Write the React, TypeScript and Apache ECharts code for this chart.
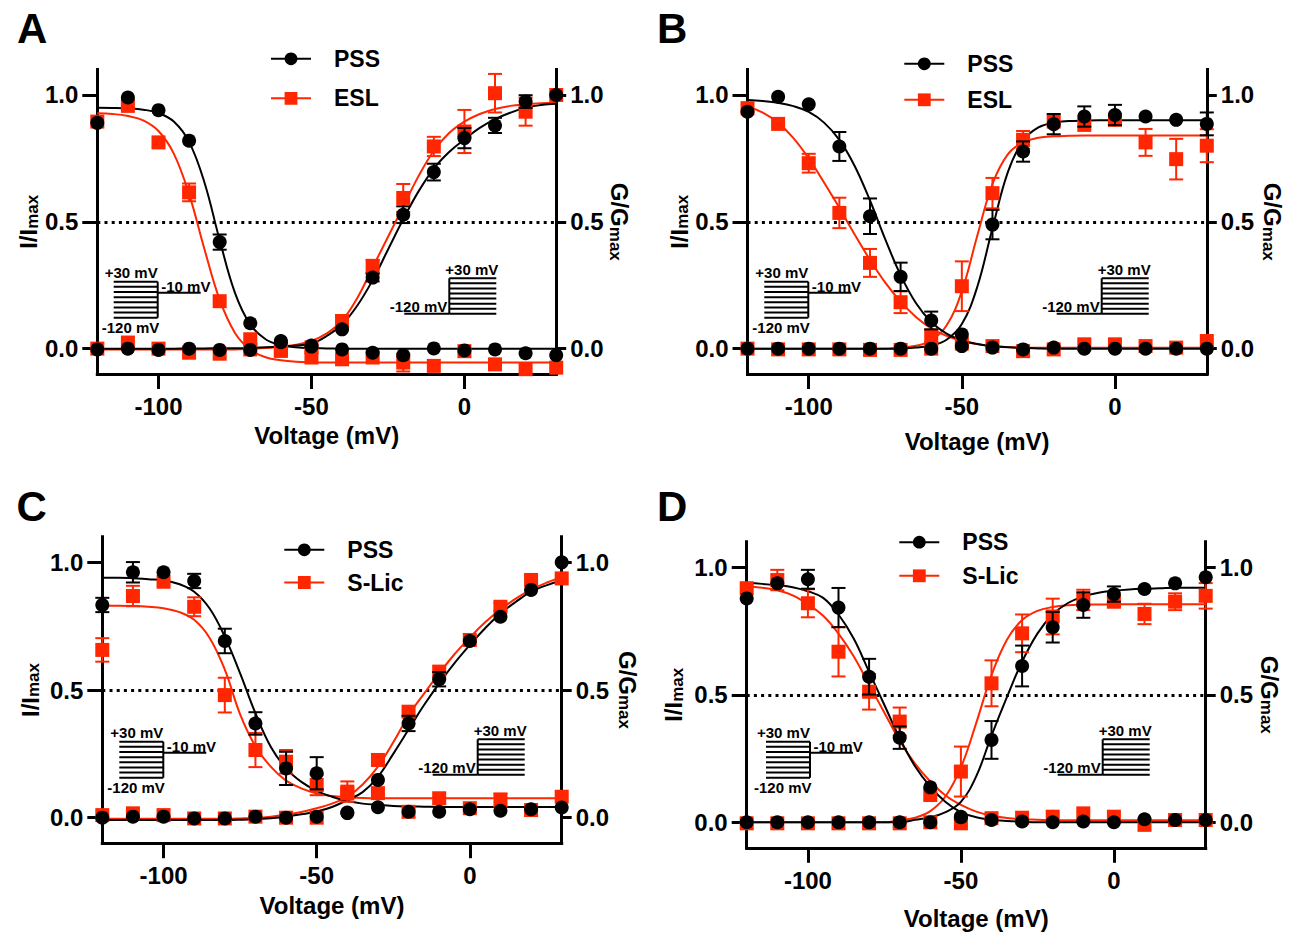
import React, { useEffect, useRef } from 'react';
import * as echarts from 'echarts';

const FONT = '"Liberation Sans", Arial, Helvetica, sans-serif';
const RED = '#ff2600';
const BLACK = '#000000';

// ---------- axes / categories ----------
const VOLTAGES = [-120, -110, -100, -90, -80, -70, -60, -50, -40, -30, -20, -10, 0, 10, 20, 30];
const FIT_VOLTAGES = [-120, -115, -110, -105, -100, -95, -90, -85, -80, -75, -70, -65, -60, -55, -50, -45, -40, -35, -30, -25, -20, -15, -10, -5, 0, 5, 10, 15, 20, 25, 30];
const X_TICKS = [-100, -50, 0];
const Y_TICKS = [0, 0.5, 1];
const PANEL_LETTERS = ['A', 'B', 'C', 'D'];
const DRUG_NAMES = ['ESL', 'ESL', 'S-Lic', 'S-Lic'];

// ---------- Panel A (PSS vs ESL) ----------
const A_PSS_INACT = [0.89, 0.99, 0.94, 0.82, 0.42, 0.10, 0.03, 0.008, -0.003, -0.016, -0.026, 0.001, -0.007, -0.003, -0.018, -0.026];
const A_PSS_INACT_ERR = [0, 0, 0, 0, 0.03, 0, 0, 0, 0, 0, 0, 0, 0, 0, 0, 0];
const A_PSS_ACT = [-0.003, 0.0, -0.005, 0.0, -0.005, -0.005, 0.025, 0.012, 0.076, 0.28, 0.528, 0.696, 0.83, 0.88, 0.974, 1.0];
const A_PSS_ACT_ERR = [0, 0, 0, 0, 0, 0, 0, 0, 0, 0.015, 0.033, 0.033, 0.04, 0.03, 0.025, 0];
const A_ESL_INACT = [0.895, 0.957, 0.813, 0.616, 0.187, 0.037, -0.009, -0.035, -0.042, -0.035, -0.055, -0.068, -0.01, -0.062, -0.081, -0.075];
const A_ESL_INACT_ERR = [0, 0, 0, 0.035, 0, 0, 0, 0, 0, 0, 0.035, 0, 0, 0, 0, 0];
const A_ESL_ACT = [0.0, 0.024, 0.0, -0.016, -0.02, -0.003, -0.005, 0.005, 0.109, 0.325, 0.594, 0.797, 0.856, 1.007, 0.934, 1.0];
const A_ESL_ACT_ERR = [0, 0, 0, 0, 0, 0, 0, 0, 0.02, 0.025, 0.055, 0.038, 0.085, 0.076, 0.055, 0];
const A_PSS_INACT_FIT = [0.95, 0.949, 0.947, 0.942, 0.929, 0.895, 0.815, 0.656, 0.428, 0.22, 0.095, 0.037, 0.014, 0.005, 0.002, 0.001, 0, 0, 0, 0, 0, 0, 0, 0, 0, 0, 0, 0, 0, 0, 0];
const A_PSS_ACT_FIT = [0, 0, 0, 0, 0, 0, 0.001, 0.001, 0.002, 0.002, 0.003, 0.005, 0.008, 0.012, 0.02, 0.05, 0.095, 0.17, 0.27, 0.39, 0.51, 0.62, 0.71, 0.775, 0.825, 0.87, 0.905, 0.93, 0.95, 0.96, 0.965];
const A_ESL_INACT_FIT = [0.928, 0.925, 0.917, 0.9, 0.858, 0.769, 0.609, 0.393, 0.193, 0.062, -0.004, -0.034, -0.046, -0.052, -0.054, -0.055, -0.055, -0.055, -0.055, -0.055, -0.055, -0.055, -0.055, -0.055, -0.055, -0.055, -0.055, -0.055, -0.055, -0.055, -0.055];
const A_ESL_ACT_FIT = [-0.003, -0.003, -0.003, -0.003, -0.003, -0.003, -0.003, -0.003, -0.003, -0.003, -0.001, 0.002, 0.008, 0.015, 0.03, 0.06, 0.11, 0.2, 0.32, 0.44, 0.56, 0.68, 0.78, 0.85, 0.895, 0.925, 0.945, 0.957, 0.963, 0.967, 0.969];

// ---------- Panel B (PSS vs ESL) ----------
const B_PSS_INACT = [0.934, 0.993, 0.963, 0.797, 0.522, 0.283, 0.111, 0.01, 0.004, -0.003, 0.004, 0.0, 0.0, 0.0, 0.0, 0.0];
const B_PSS_INACT_ERR = [0, 0, 0, 0.057, 0.07, 0.056, 0.035, 0, 0, 0, 0, 0, 0, 0, 0, 0];
const B_PSS_ACT = [0.0, 0.0, 0.0, 0.0, 0.0, 0.0, 0.0, 0.056, 0.489, 0.777, 0.885, 0.915, 0.921, 0.915, 0.902, 0.886];
const B_PSS_ACT_ERR = [0, 0, 0, 0, 0, 0, 0, 0, 0.058, 0.04, 0.04, 0.04, 0.04, 0, 0, 0.045];
const B_ESL_INACT = [0.948, 0.886, 0.731, 0.535, 0.338, 0.183, 0.05, 0.02, 0.01, -0.01, -0.003, 0.017, 0.017, 0.01, 0.004, 0.03];
const B_ESL_INACT_ERR = [0, 0, 0.037, 0.06, 0.055, 0.043, 0.025, 0, 0, 0, 0, 0, 0, 0, 0, 0];
const B_ESL_ACT = [0.0, -0.003, -0.003, -0.003, -0.005, -0.005, 0.0, 0.246, 0.613, 0.823, 0.895, 0.882, 0.902, 0.813, 0.747, 0.80];
const B_ESL_ACT_ERR = [0, 0, 0, 0, 0, 0, 0, 0.098, 0.06, 0.035, 0, 0, 0, 0.053, 0.08, 0.065];
const B_PSS_INACT_FIT = [0.98, 0.976, 0.969, 0.956, 0.933, 0.891, 0.823, 0.72, 0.584, 0.431, 0.29, 0.18, 0.105, 0.059, 0.033, 0.018, 0.01, 0.005, 0.003, 0.001, 0, 0, 0, 0, 0, 0, 0, 0, 0, 0, 0];
const B_PSS_ACT_FIT = [0, 0, 0, 0, 0, 0, 0, 0, 0, 0, 0.001, 0.004, 0.012, 0.035, 0.097, 0.242, 0.475, 0.695, 0.82, 0.872, 0.891, 0.897, 0.899, 0.9, 0.9, 0.9, 0.9, 0.9, 0.9, 0.9, 0.9];
const B_ESL_INACT_FIT = [0.955, 0.93, 0.89, 0.83, 0.75, 0.655, 0.555, 0.45, 0.35, 0.26, 0.185, 0.125, 0.08, 0.05, 0.03, 0.018, 0.01, 0.006, 0.004, 0.003, 0.003, 0.003, 0.003, 0.003, 0.003, 0.003, 0.003, 0.003, 0.003, 0.003, 0.003];
const B_ESL_ACT_FIT = [0, 0, 0, 0, 0, 0, 0, 0, 0, 0, 0.004, 0.011, 0.032, 0.091, 0.226, 0.443, 0.649, 0.766, 0.814, 0.831, 0.837, 0.839, 0.84, 0.84, 0.84, 0.84, 0.84, 0.84, 0.84, 0.84, 0.84];

// ---------- Panel C (PSS vs S-Lic) ----------
const C_PSS_INACT = [0.833, 0.961, 0.961, 0.927, 0.692, 0.369, 0.193, 0.174, 0.02, 0.041, 0.023, 0.023, 0.033, 0.027, 0.033, 0.04];
const C_PSS_INACT_ERR = [0.028, 0.04, 0, 0.028, 0.048, 0.044, 0.065, 0.063, 0, 0, 0, 0, 0, 0, 0, 0];
const C_PSS_ACT = [0.0, 0.004, 0.004, -0.003, -0.003, 0.004, 0.0, 0.004, 0.018, 0.148, 0.369, 0.542, 0.692, 0.787, 0.892, 1.0];
const C_PSS_ACT_ERR = [0, 0, 0, 0, 0, 0, 0, 0, 0, 0, 0.03, 0.028, 0, 0, 0, 0];
const C_SLIC_INACT = [0.657, 0.868, 0.924, 0.826, 0.48, 0.265, 0.219, 0.128, 0.102, 0.096, 0.023, 0.076, 0.037, 0.069, 0.03, 0.082];
const C_SLIC_INACT_ERR = [0.046, 0.04, 0, 0.037, 0.068, 0.067, 0.046, 0.04, 0.04, 0, 0, 0, 0, 0.026, 0, 0];
const C_SLIC_ACT = [0.01, 0.017, 0.01, -0.003, -0.003, 0.004, 0.0, 0.0, 0.095, 0.226, 0.415, 0.572, 0.696, 0.826, 0.931, 0.937];
const C_SLIC_ACT_ERR = [0, 0, 0, 0, 0, 0, 0, 0, 0, 0, 0, 0, 0, 0.015, 0, 0];
const C_PSS_INACT_FIT = [0.94, 0.94, 0.938, 0.934, 0.93, 0.915, 0.885, 0.82, 0.709, 0.565, 0.409, 0.278, 0.193, 0.14, 0.105, 0.082, 0.065, 0.055, 0.05, 0.046, 0.044, 0.043, 0.042, 0.042, 0.042, 0.042, 0.042, 0.042, 0.042, 0.042, 0.042];
const C_PSS_ACT_FIT = [-0.009, -0.009, -0.009, -0.009, -0.009, -0.009, -0.009, -0.009, -0.009, -0.008, -0.006, -0.002, 0.004, 0.013, 0.024, 0.042, 0.069, 0.1, 0.16, 0.25, 0.345, 0.44, 0.526, 0.605, 0.676, 0.742, 0.8, 0.845, 0.885, 0.91, 0.93];
const C_SLIC_INACT_FIT = [0.83, 0.83, 0.829, 0.826, 0.82, 0.806, 0.775, 0.705, 0.58, 0.405, 0.28, 0.2, 0.145, 0.115, 0.095, 0.085, 0.08, 0.077, 0.076, 0.076, 0.076, 0.076, 0.076, 0.076, 0.076, 0.076, 0.076, 0.076, 0.076, 0.076, 0.076];
const C_SLIC_ACT_FIT = [-0.004, -0.004, -0.004, -0.004, -0.004, -0.004, -0.004, -0.004, -0.004, -0.003, -0.001, 0.004, 0.012, 0.022, 0.037, 0.055, 0.082, 0.13, 0.2, 0.295, 0.4, 0.485, 0.565, 0.64, 0.705, 0.765, 0.815, 0.858, 0.893, 0.92, 0.942];

// ---------- Panel D (PSS vs S-Lic) ----------
const D_PSS_INACT = [0.878, 0.937, 0.953, 0.842, 0.571, 0.332, 0.137, 0.022, 0.009, 0.003, 0.0, 0.003, 0.0, 0.012, 0.009, 0.009];
const D_PSS_INACT_ERR = [0, 0, 0.037, 0.077, 0.07, 0.044, 0, 0, 0, 0, 0, 0, 0, 0, 0, 0];
const D_PSS_ACT = [0.0, 0.0, 0.0, 0.0, 0.0, 0.0, 0.0, 0.02, 0.323, 0.613, 0.765, 0.852, 0.895, 0.915, 0.937, 0.961];
const D_PSS_ACT_ERR = [0, 0, 0, 0, 0, 0, 0, 0, 0.074, 0.08, 0.06, 0.05, 0.03, 0, 0, 0];
const D_SLIC_INACT = [0.918, 0.95, 0.859, 0.669, 0.512, 0.395, 0.107, -0.004, 0.016, 0.018, 0.022, 0.035, 0.022, -0.01, 0.009, 0.009];
const D_SLIC_INACT_ERR = [0, 0.04, 0.055, 0.097, 0.07, 0.055, 0, 0, 0, 0, 0, 0, 0, 0, 0, 0];
const D_SLIC_ACT = [-0.004, -0.004, -0.004, -0.004, -0.004, -0.004, 0.0, 0.199, 0.545, 0.741, 0.807, 0.872, 0.865, 0.817, 0.865, 0.888];
const D_SLIC_ACT_ERR = [0, 0, 0, 0, 0, 0, 0, 0.098, 0.09, 0.074, 0.07, 0.04, 0.02, 0.04, 0.033, 0.05];
const D_PSS_INACT_FIT = [0.938, 0.935, 0.93, 0.922, 0.906, 0.88, 0.815, 0.72, 0.59, 0.46, 0.33, 0.22, 0.14, 0.08, 0.04, 0.02, 0.01, 0.005, 0.002, 0, 0, 0, 0, 0, 0, 0, 0, 0, 0, 0, 0];
const D_PSS_ACT_FIT = [0, 0, 0, 0, 0, 0, 0, 0, 0, 0, 0, 0.01, 0.02, 0.04, 0.08, 0.18, 0.34, 0.49, 0.63, 0.74, 0.815, 0.86, 0.885, 0.9, 0.908, 0.913, 0.916, 0.918, 0.92, 0.92, 0.92];
const D_SLIC_INACT_FIT = [0.925, 0.92, 0.91, 0.89, 0.855, 0.81, 0.74, 0.65, 0.54, 0.43, 0.32, 0.23, 0.16, 0.105, 0.068, 0.042, 0.026, 0.017, 0.012, 0.01, 0.008, 0.008, 0.008, 0.008, 0.008, 0.008, 0.008, 0.008, 0.008, 0.008, 0.008];
const D_SLIC_ACT_FIT = [0, 0, 0, 0, 0, 0, 0, 0, 0, 0, 0.008, 0.018, 0.044, 0.102, 0.215, 0.389, 0.577, 0.715, 0.793, 0.829, 0.844, 0.851, 0.853, 0.854, 0.855, 0.855, 0.855, 0.855, 0.855, 0.855, 0.855];

// ---------- data table built from the arrays ----------
const PANEL_DATA = [
  { pssInact: A_PSS_INACT, pssInactErr: A_PSS_INACT_ERR, pssAct: A_PSS_ACT, pssActErr: A_PSS_ACT_ERR, drugInact: A_ESL_INACT, drugInactErr: A_ESL_INACT_ERR, drugAct: A_ESL_ACT, drugActErr: A_ESL_ACT_ERR, pssInactFit: A_PSS_INACT_FIT, pssActFit: A_PSS_ACT_FIT, drugInactFit: A_ESL_INACT_FIT, drugActFit: A_ESL_ACT_FIT },
  { pssInact: B_PSS_INACT, pssInactErr: B_PSS_INACT_ERR, pssAct: B_PSS_ACT, pssActErr: B_PSS_ACT_ERR, drugInact: B_ESL_INACT, drugInactErr: B_ESL_INACT_ERR, drugAct: B_ESL_ACT, drugActErr: B_ESL_ACT_ERR, pssInactFit: B_PSS_INACT_FIT, pssActFit: B_PSS_ACT_FIT, drugInactFit: B_ESL_INACT_FIT, drugActFit: B_ESL_ACT_FIT },
  { pssInact: C_PSS_INACT, pssInactErr: C_PSS_INACT_ERR, pssAct: C_PSS_ACT, pssActErr: C_PSS_ACT_ERR, drugInact: C_SLIC_INACT, drugInactErr: C_SLIC_INACT_ERR, drugAct: C_SLIC_ACT, drugActErr: C_SLIC_ACT_ERR, pssInactFit: C_PSS_INACT_FIT, pssActFit: C_PSS_ACT_FIT, drugInactFit: C_SLIC_INACT_FIT, drugActFit: C_SLIC_ACT_FIT },
  { pssInact: D_PSS_INACT, pssInactErr: D_PSS_INACT_ERR, pssAct: D_PSS_ACT, pssActErr: D_PSS_ACT_ERR, drugInact: D_SLIC_INACT, drugInactErr: D_SLIC_INACT_ERR, drugAct: D_SLIC_ACT, drugActErr: D_SLIC_ACT_ERR, pssInactFit: D_PSS_INACT_FIT, pssActFit: D_PSS_ACT_FIT, drugInactFit: D_SLIC_INACT_FIT, drugActFit: D_SLIC_ACT_FIT },
];

// ---------- layout (pixels) ----------
const LAYOUT = [
  { grid: { left: 97.3, top: 69.6, width: 458.9, height: 304.4 }, legend: { left: 270, top: 47.3, gap: 16.5 }, letter: [17, 28.3], xNameGap: 49, yNameGap: 56.5, rNameGap: 51, inact: [157.7, 281.7], act: [449.3, 278.3] },
  { grid: { left: 747.5, top: 69.6, width: 459.3, height: 304.4 }, legend: { left: 903.3, top: 52.3, gap: 13 }, letter: [657, 28.3], xNameGap: 55.8, yNameGap: 56, rNameGap: 53.5, inact: [808.3, 281.7], act: [1101.7, 278.3] },
  { grid: { left: 102.3, top: 536.8, width: 459.4, height: 306.4 }, legend: { left: 283.3, top: 538.3, gap: 9.7 }, letter: [16.5, 506.7], xNameGap: 50, yNameGap: 60, rNameGap: 54, inact: [163.3, 741.7], act: [477.7, 739.3] },
  { grid: { left: 746.7, top: 541.8, width: 459, height: 306 }, legend: { left: 898.3, top: 530.7, gap: 10.6 }, letter: [657, 506.7], xNameGap: 58.7, yNameGap: 61, rNameGap: 52, inact: [810, 741.7], act: [1102.7, 739.3] },
];

const PROTOCOL_STEPS = 8;

function buildOption() {
  const axisLabelStyle = { fontSize: 24, fontWeight: 'bold', color: BLACK, fontFamily: FONT, lineHeight: 24 };
  const axisLineStyle = { show: true, onZero: false, lineStyle: { color: BLACK, width: 3, cap: 'square' } };
  const richName = {
    a: { fontSize: 24, fontWeight: 'bold', fontFamily: FONT, color: BLACK, lineHeight: 24, verticalAlign: 'top' },
    b: { fontSize: 17, fontWeight: 'bold', fontFamily: FONT, color: BLACK, lineHeight: 17, verticalAlign: 'bottom', padding: [15, 0, 0, 0] },
  };

  const xAxis = LAYOUT.map((L, i) => ({
    type: 'value', gridIndex: i, min: -120, max: 30,
    axisLine: axisLineStyle,
    axisTick: { show: true, length: 15, lineStyle: { color: BLACK, width: 3 }, customValues: X_TICKS },
    axisLabel: { ...axisLabelStyle, margin: 20.5, customValues: X_TICKS, formatter: (v: number) => String(v) },
    splitLine: { show: false },
    name: 'Voltage (mV)', nameLocation: 'middle', nameGap: L.xNameGap,
    nameTextStyle: { fontSize: 24, fontWeight: 'bold', color: BLACK, fontFamily: FONT, lineHeight: 24 },
  }));

  const yAxis: any[] = [];
  LAYOUT.forEach((L, i) => {
    yAxis.push({
      type: 'value', gridIndex: i, position: 'left', min: -0.1, max: 1.1,
      axisLine: axisLineStyle,
      axisTick: { show: true, length: 15, lineStyle: { color: BLACK, width: 3 }, customValues: Y_TICKS },
      axisLabel: { ...axisLabelStyle, margin: 19, customValues: Y_TICKS, formatter: (v: number) => v.toFixed(1) },
      splitLine: { show: false },
      name: '{a|I/I}{b|max}', nameLocation: 'middle', nameGap: L.yNameGap,
      nameTextStyle: { rich: richName },
    });
    yAxis.push({
      type: 'value', gridIndex: i, position: 'right', min: -0.1, max: 1.1,
      axisLine: axisLineStyle,
      axisTick: { show: true, length: 10, lineStyle: { color: BLACK, width: 3 }, customValues: Y_TICKS },
      axisLabel: { ...axisLabelStyle, margin: 14, customValues: Y_TICKS, formatter: (v: number) => v.toFixed(1) },
      splitLine: { show: false },
      name: '{a|G/G}{b|max}', nameLocation: 'middle', nameGap: L.rNameGap, nameRotate: -90,
      nameTextStyle: { rich: richName },
    });
  });

  const series: any[] = [];
  const errRender = (color: string) => (params: any, api: any) => {
    const x = api.value(0), y = api.value(1), e = api.value(2);
    const p1 = api.coord([x, y + e]);
    const p2 = api.coord([x, y - e]);
    const w = 7;
    const st = { stroke: color, lineWidth: 2 };
    return {
      type: 'group',
      children: [
        { type: 'line', shape: { x1: p1[0], y1: p1[1], x2: p2[0], y2: p2[1] }, style: st },
        { type: 'line', shape: { x1: p1[0] - w, y1: p1[1], x2: p1[0] + w, y2: p1[1] }, style: st },
        { type: 'line', shape: { x1: p2[0] - w, y1: p2[1], x2: p2[0] + w, y2: p2[1] }, style: st },
      ],
    };
  };
  const errSeries = (i: number, ys: number[], es: number[], color: string, z: number) => ({
    type: 'custom', xAxisIndex: i, yAxisIndex: 2 * i, z, silent: true,
    renderItem: errRender(color),
    encode: { x: 0, y: 1 },
    data: VOLTAGES.map((v, k) => [v, ys[k], es[k]]).filter((r) => r[2] > 0),
  });
  const fitSeries = (i: number, name: string, ys: number[], color: string, z: number, extra: any = {}) => ({
    type: 'line', name, xAxisIndex: i, yAxisIndex: 2 * i, z, silent: true,
    data: FIT_VOLTAGES.map((v, k) => [v, ys[k]]),
    symbol: 'none', smooth: 0.4,
    lineStyle: { color, width: 2 },
    emphasis: { disabled: true },
    ...extra,
  });
  const pointSeries = (i: number, name: string, ys: number[], color: string, symbol: string, z: number) => ({
    type: 'line', name, xAxisIndex: i, yAxisIndex: 2 * i, z, silent: true, clip: false,
    data: VOLTAGES.map((v, k) => [v, ys[k]]),
    symbol, symbolSize: 14, showSymbol: true, showAllSymbol: true,
    lineStyle: { color, width: 0, opacity: 0 },
    itemStyle: { color },
    emphasis: { disabled: true },
  });

  PANEL_DATA.forEach((P, i) => {
    const drug = DRUG_NAMES[i];
    series.push(fitSeries(i, drug + ' inactivation fit', P.drugInactFit, RED, 3, {
      markLine: {
        silent: true, z: 1, symbol: ['none', 'none'], label: { show: false },
        lineStyle: { type: [3, 4.2], width: 3, color: BLACK },
        emphasis: { disabled: true },
        data: [{ yAxis: 0.5 }],
      },
    }));
    series.push(fitSeries(i, drug + ' activation fit', P.drugActFit, RED, 3));
    series.push(fitSeries(i, 'PSS inactivation fit', P.pssInactFit, BLACK, 4));
    series.push(fitSeries(i, 'PSS activation fit', P.pssActFit, BLACK, 4));
    series.push(errSeries(i, P.drugInact, P.drugInactErr, RED, 6));
    series.push(errSeries(i, P.drugAct, P.drugActErr, RED, 6));
    series.push(pointSeries(i, drug, P.drugInact, RED, 'rect', 7));
    series.push(pointSeries(i, drug, P.drugAct, RED, 'rect', 7));
    series.push(errSeries(i, P.pssInact, P.pssInactErr, BLACK, 8));
    series.push(errSeries(i, P.pssAct, P.pssActErr, BLACK, 8));
    series.push(pointSeries(i, 'PSS', P.pssInact, BLACK, 'circle', 9));
    series.push(pointSeries(i, 'PSS', P.pssAct, BLACK, 'circle', 9));
  });

  const legend = LAYOUT.map((L, i) => ({
    orient: 'vertical', left: L.legend.left, top: L.legend.top, itemGap: L.legend.gap,
    itemWidth: 40, itemHeight: 16, padding: 0, selectedMode: false,
    textStyle: { fontSize: 23, fontWeight: 'bold', color: BLACK, fontFamily: FONT, lineHeight: 16, padding: [0, 0, 0, 18] },
    data: [
      { name: 'PSS', itemStyle: { color: BLACK, borderWidth: 0 }, lineStyle: { color: BLACK, width: 2, opacity: 1 } },
      { name: DRUG_NAMES[i], itemStyle: { color: RED, borderWidth: 0 }, lineStyle: { color: RED, width: 2, opacity: 1 } },
    ],
  }));

  const line = (x1: number, y1: number, x2: number, y2: number) => ({
    type: 'line', silent: true, shape: { x1, y1, x2, y2 }, style: { stroke: BLACK, lineWidth: 2 },
  });
  const text = (t: string, x: number, y: number, align: string, size = 15) => ({
    type: 'text', silent: true, x, y,
    style: { text: t, fill: BLACK, fontSize: size, fontWeight: 'bold', fontFamily: FONT, align, verticalAlign: 'middle' },
  });

  const elements: any[] = [];
  LAYOUT.forEach((L, i) => {
    elements.push(text(PANEL_LETTERS[i], L.letter[0], L.letter[1], 'left', 42));
    // inactivation protocol
    const [vx, top] = L.inact;
    const span = 36;
    for (let k = 0; k < PROTOCOL_STEPS; k++) {
      const y = top + (k * span) / (PROTOCOL_STEPS - 1);
      elements.push(line(vx - 44, y, vx, y));
    }
    elements.push(line(vx, top, vx, top + span));
    elements.push(line(vx, top + 11, vx + 43, top + 11));
    elements.push(text('+30 mV', vx - 53, top - 9, 'left'));
    elements.push(text('-10 mV', vx + 3.5, top + 5, 'left'));
    elements.push(text('-120 mV', vx - 56, top + 45.5, 'left'));
    // activation protocol
    const [ax, atop] = L.act;
    const aspan = 35.5;
    for (let k = 0; k < PROTOCOL_STEPS; k++) {
      const y = atop + (k * aspan) / (PROTOCOL_STEPS - 1);
      elements.push(line(ax, y, ax + 47, y));
    }
    elements.push(line(ax, atop, ax, atop + aspan));
    elements.push(line(ax - 45, atop + aspan, ax, atop + aspan));
    elements.push(text('+30 mV', ax + 49, atop - 9, 'right'));
    elements.push(text('-120 mV', ax - 2, atop + 28.5, 'right'));
  });

  return {
    animation: false,
    backgroundColor: '#ffffff',
    textStyle: { fontFamily: FONT },
    grid: LAYOUT.map((L) => ({ ...L.grid, containLabel: false })),
    xAxis,
    yAxis,
    legend,
    series,
    graphic: { elements },
  };
}

export default function App() {
  const ref = useRef<HTMLDivElement>(null);
  useEffect(() => {
    if (!ref.current) return;
    const chart = echarts.init(ref.current, null, { renderer: 'svg' });
    chart.setOption(buildOption() as any);
    return () => chart.dispose();
  }, []);
  return (
    <div
      ref={ref}
      style={{ position: 'fixed', left: 0, top: 0, width: 1299, height: 937, background: '#ffffff' }}
    />
  );
}
